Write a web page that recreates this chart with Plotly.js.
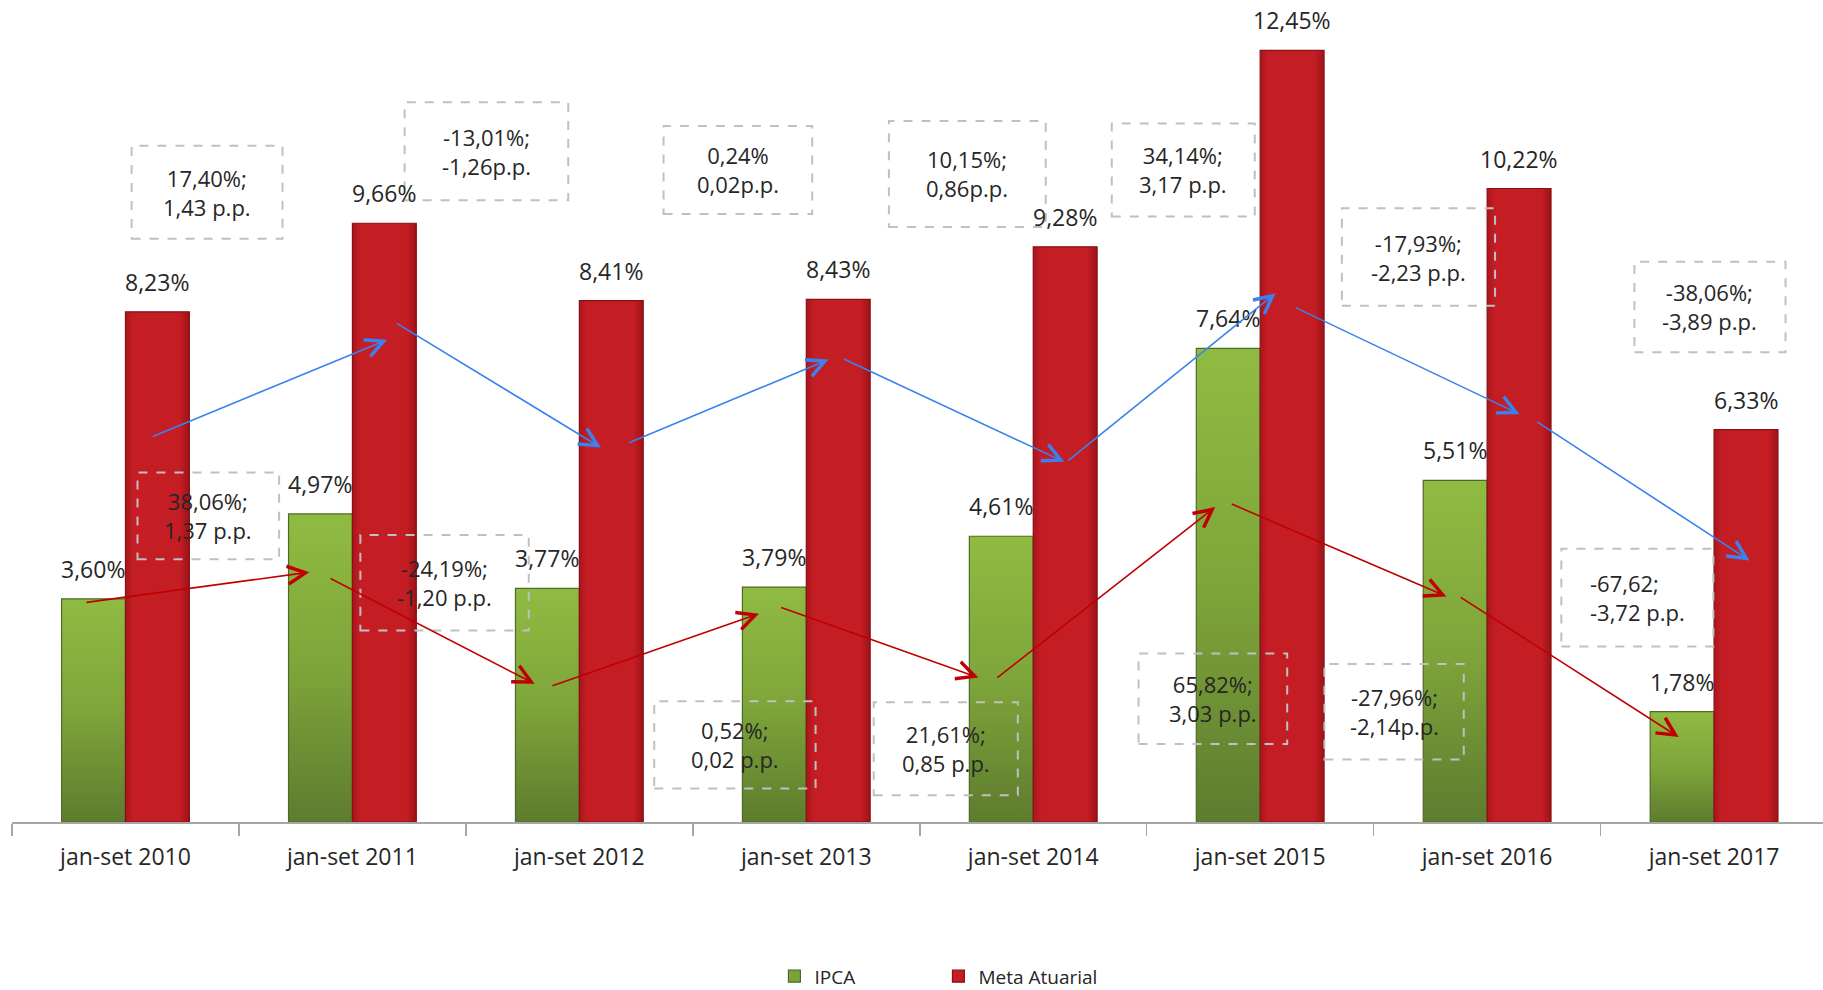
<!DOCTYPE html>
<html>
<head>
<meta charset="utf-8">
<script src="https://cdn.plot.ly/plotly-3.0.1.min.js"></script>
<style>
  html, body { margin: 0; padding: 0; background: #ffffff; }
  #chart { width: 1823px; height: 990px; }
</style>
</head>
<body>
<div id="chart"></div>
<script>
// ---- data ----
const categories = ['jan-set 2010', 'jan-set 2011', 'jan-set 2012', 'jan-set 2013',
                    'jan-set 2014', 'jan-set 2015', 'jan-set 2016', 'jan-set 2017'];
const ipca = [3.60, 4.97, 3.77, 3.79, 4.61, 7.64, 5.51, 1.78];
const metaAtuarial = [8.23, 9.66, 8.41, 8.43, 9.28, 12.45, 10.22, 6.33];

// year-over-year change labels (Meta Atuarial row / IPCA row)
const metaChangeLabels = ['17,40%;<br>1,43 p.p.', '-13,01%;<br>-1,26p.p.', '0,24%<br>0,02p.p.',
                          '10,15%;<br>0,86p.p.', '34,14%;<br>3,17 p.p.', '-17,93%;<br>-2,23 p.p.',
                          '-38,06%;<br>-3,89 p.p.'];
const ipcaChangeLabels = ['38,06%;<br>1,37 p.p.', '-24,19%;<br>-1,20 p.p.', '0,52%;<br>0,02 p.p.',
                          '21,61%;<br>0,85 p.p.', '65,82%;<br>3,03 p.p.', '-27,96%;<br>-2,14p.p.',
                          '-67,62;<br>-3,72 p.p.'];

// ---- layout helpers (box and arrow placement, in axis units) ----
const metaBoxes = [
  [0.027, 0.692, 9.41, 10.91], [1.230, 1.951, 10.03, 11.61], [2.371, 3.026, 9.81, 11.23],
  [3.364, 4.055, 9.60, 11.31], [4.346, 4.976, 9.77, 11.27], [5.360, 6.035, 8.33, 9.90],
  [6.649, 7.315, 7.58, 9.04]
];
const ipcaBoxes = [
  [0.053, 0.677, 4.24, 5.64], [1.035, 1.777, 3.09, 4.63], [2.330, 3.041, 0.54, 1.95],
  [3.297, 3.932, 0.43, 1.93], [4.464, 5.119, 1.26, 2.72], [5.283, 5.897, 1.01, 2.55],
  [6.327, 6.997, 2.83, 4.41]
];
// [tailX, tailY, headX, headY]
const metaArrows = [
  [0.114, 6.21, 1.153, 7.78], [1.189, 8.06, 2.095, 6.04], [2.212, 6.11, 3.098, 7.46],
  [3.159, 7.48, 4.137, 5.81], [4.147, 5.81, 5.068, 8.53], [5.150, 8.31, 6.143, 6.58],
  [6.214, 6.47, 7.156, 4.22]
];
const ipcaArrows = [
  [-0.178, 3.54, 0.810, 4.03], [0.897, 3.94, 1.803, 2.23], [1.875, 2.19, 2.791, 3.36],
  [2.883, 3.47, 3.758, 2.33], [3.835, 2.31, 4.802, 5.08], [4.868, 5.14, 5.820, 3.64],
  [5.877, 3.64, 6.844, 1.37]
];

const FONT = '"Open Sans", "Noto Sans", sans-serif';
const TXT = '#262626';

const shapes = [];
const annotations = [];

// value labels above each bar (bar half-width offset of the grouped bars)
const fmt = v => v.toFixed(2).replace('.', ',') + '%';
function addValueLabels(values, shift) {
  values.forEach((v, i) => {
    annotations.push({
      xref: 'x', yref: 'y', x: categories[i], y: v, xshift: shift, yshift: 12,
      yanchor: 'bottom', text: fmt(v), showarrow: false,
      font: { family: FONT, size: 23, color: TXT }
    });
  });
}
addValueLabels(ipca, -32);
addValueLabels(metaAtuarial, 32);

function addBox(b, text, align) {
  shapes.push({
    type: 'rect', xref: 'x', yref: 'y', x0: b[0], x1: b[1], y0: b[2], y1: b[3],
    line: { color: '#c0c0c0', width: 2, dash: 'dash' }, fillcolor: 'rgba(0,0,0,0)', layer: 'above'
  });
  annotations.push({
    xref: 'x', yref: 'y', x: (b[0] + b[1]) / 2, y: (b[2] + b[3]) / 2,
    text: text, showarrow: false, align: align || 'center',
    font: { family: FONT, size: 22, color: TXT }
  });
}
metaBoxes.forEach((b, i) => addBox(b, metaChangeLabels[i]));
ipcaBoxes.forEach((b, i) => addBox(b, ipcaChangeLabels[i], i === 6 ? 'left' : 'center'));

function addArrow(a, color) {
  annotations.push({
    xref: 'x', yref: 'y', axref: 'x', ayref: 'y',
    x: a[2], y: a[3], ax: a[0], ay: a[1], text: '',
    showarrow: true, arrowhead: 5, arrowsize: 2.2, arrowwidth: 1.6,
    arrowcolor: color, standoff: 0, startstandoff: 0
  });
}
metaArrows.forEach(a => addArrow(a, '#3b82ee'));
ipcaArrows.forEach(a => addArrow(a, '#c00000'));

const traces = [
  {
    type: 'bar', name: 'IPCA', x: categories, y: ipca,
    marker: { color: '#7da23a', line: { color: '#4f6a26', width: 1.2 } },
    hoverinfo: 'skip'
  },
  {
    type: 'bar', name: 'Meta Atuarial', x: categories, y: metaAtuarial,
    marker: { color: '#c41d24', line: { color: '#8a1015', width: 1.2 } },
    hoverinfo: 'skip'
  }
];

const layout = {
  width: 1823, height: 990,
  margin: { l: 12, r: 0, t: 10, b: 168, autoexpand: false },
  paper_bgcolor: '#ffffff', plot_bgcolor: '#ffffff',
  separators: ',.',
  barmode: 'group', bargap: 0.437, bargroupgap: 0,
  showlegend: true,
  legend: {
    orientation: 'h', x: 0.421, xanchor: 'left', y: -0.19, yanchor: 'middle',
    font: { family: FONT, size: 19, color: TXT },
    entrywidth: 119, entrywidthmode: 'pixels', itemclick: false
  },
  xaxis: {
    type: 'category', range: [-0.5, 7.48], showgrid: false, zeroline: false,
    showline: true, linecolor: '#a6a6a6', linewidth: 1.5,
    ticks: 'outside', tickson: 'boundaries', ticklen: 12, tickcolor: '#a6a6a6', tickwidth: 1.5,
    tickfont: { family: FONT, size: 23, color: TXT }, ticklabelstandoff: 14
  },
  yaxis: {
    range: [0, 13.1], visible: false, showgrid: false, zeroline: false, fixedrange: true
  },
  shapes: shapes,
  annotations: annotations,
  font: { family: FONT }
};

Plotly.newPlot('chart', traces, layout, { staticPlot: true, displayModeBar: false }).then(gd => {
  // soft vertical shading on the bars, like the original's bevelled look
  const svg = gd.querySelector('svg.main-svg');
  let defs = svg.querySelector('defs');
  const NS = 'http://www.w3.org/2000/svg';
  function grad(id, stops, horizontal) {
    const g = document.createElementNS(NS, 'linearGradient');
    g.setAttribute('id', id);
    g.setAttribute('x1', '0'); g.setAttribute('y1', '0');
    g.setAttribute('x2', horizontal ? '1' : '0'); g.setAttribute('y2', horizontal ? '0' : '1');
    stops.forEach(s => {
      const st = document.createElementNS(NS, 'stop');
      st.setAttribute('offset', s[0]); st.setAttribute('stop-color', s[1]);
      g.appendChild(st);
    });
    defs.appendChild(g);
  }
  grad('gradGreen', [['0', '#90bb42'], ['0.5', '#7ea53a'], ['1', '#5e7c2f']]);
  grad('gradRed', [['0', '#a8161c'], ['0.12', '#c41d24'], ['0.85', '#c41d24'], ['1', '#9c1318']], true);
  const traceGroups = gd.querySelectorAll('.barlayer .trace');
  const ids = ['gradGreen', 'gradRed'];
  traceGroups.forEach((t, i) => {
    t.querySelectorAll('path').forEach(p => { p.style.fill = 'url(#' + ids[i] + ')'; });
  });
});
</script>
</body>
</html>
